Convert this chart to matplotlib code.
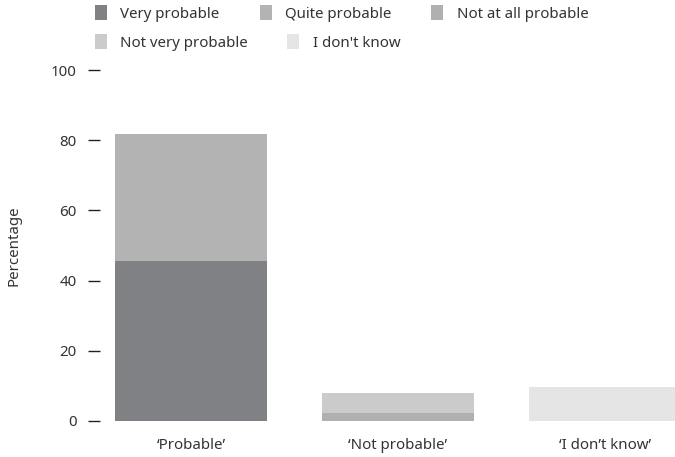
import matplotlib
matplotlib.use("Agg")
import matplotlib.pyplot as plt
from matplotlib.patches import Patch
import numpy as np

plt.rcParams['font.family'] = ['Noto Sans', 'DejaVu Sans']

categories = ["\u2018Probable\u2019", "\u2018Not probable\u2019", "\u2018I don\u2019t know\u2019"]
series_names = ["Very probable", "Quite probable", "Not at all probable",
                "Not very probable", "I don't know"]
very_probable = [45.6, 0, 0]
quite_probable = [36.2, 0, 0]
not_at_all_probable = [0, 2.2, 0]
not_very_probable = [0, 5.7, 0]
dont_know = [0, 0, 9.7]
colors = ["#808184", "#b3b3b4", "#b0b0b1", "#cbcbcc", "#e5e5e5"]
yticks = [0, 20, 40, 60, 80, 100]

series = [very_probable, quite_probable, not_at_all_probable, not_very_probable, dont_know]

fig = plt.figure(figsize=(6.75, 4.57), dpi=100)
ax = fig.add_axes([100/675, 36/457, 575/675, 351/457])

x = np.arange(len(categories))
bottom = np.zeros(len(categories))
for vals, c in zip(series, colors):
    vals = np.array(vals, dtype=float)
    ax.bar(x, vals, width=0.734, bottom=bottom, color=c, linewidth=0)
    bottom += vals

fs = 10.8
ax.set_xlim(-0.44, 2.338)
ax.set_ylim(0, 100)
ax.set_yticks(yticks)
ax.set_xticks(x)
ax.set_xticklabels(categories)
for s in ax.spines.values():
    s.set_visible(False)
ax.tick_params(axis='x', length=0, pad=12, labelsize=fs, labelcolor='#333333')
ax.tick_params(axis='y', length=8.6, width=1, color='#222222', pad=8,
               labelsize=fs, labelcolor='#333333')
ax.set_ylabel("Percentage", fontsize=fs, color='#333333', labelpad=21)

handles = [Patch(facecolor=c, edgecolor='none') for c in colors]
common = dict(frameon=False, fontsize=fs, handlelength=0.8, handleheight=1.15,
              handletextpad=0.9, borderpad=0, borderaxespad=0, labelcolor='#333333')
fig.legend(handles[:3], series_names[:3], loc='upper left', ncol=3,
           bbox_to_anchor=(95/675, 1 - 5/457), columnspacing=2.65, **common)
fig.legend(handles[3:], series_names[3:], loc='upper left', ncol=2,
           bbox_to_anchor=(95/675, 1 - 34/457), columnspacing=2.6, **common)

fig.savefig("out.png", dpi=100)
